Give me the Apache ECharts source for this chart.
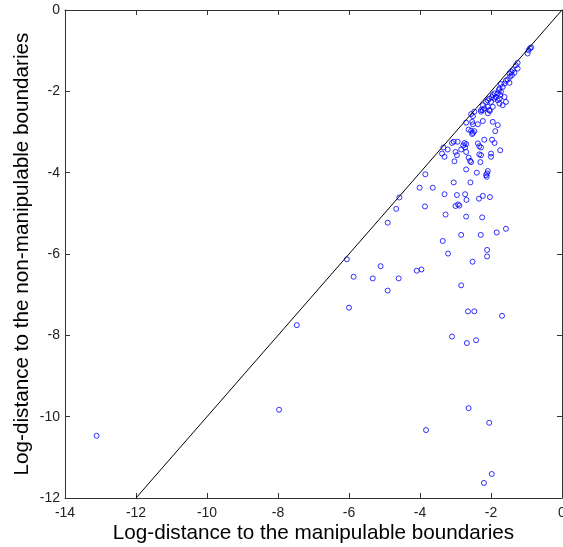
<!DOCTYPE html>
<html>
<head>
<meta charset="utf-8">
<script src="https://cdn.jsdelivr.net/npm/echarts@6/dist/echarts.min.js"></script>
<style>
  html, body { margin: 0; padding: 0; background: #fff; }
  #boundaryChart { width: 563px; height: 547px; }
</style>
</head>
<body>
<div id="boundaryChart"></div>
<script>
// log-distance to the manipulable boundaries (x) / non-manipulable boundaries (y)
const logDistManip = [
  -0.90, -0.94, -0.87, -0.97, -1.25, -1.30, -1.25, -1.39, -1.43, -1.34,
  -1.48, -1.41, -1.46, -1.53, -1.58, -1.48, -1.62, -1.72, -1.67, -1.76,
  -1.78, -1.72, -1.81, -1.74, -1.90, -1.97, -1.95, -2.05, -2.09, -2.14,
  -2.00, -1.90, -1.86, -1.81, -1.76, -1.62, -1.58, -1.67, -1.76, -2.23,
  -2.19, -2.28, -2.09, -2.05, -1.95, -2.23,
  -2.56, -2.47, -2.51, -2.28, -2.09, -2.03,
  -2.70, -2.53, -2.51, -2.37, -2.23, -1.95, -1.81,
  -2.63, -2.56, -2.51, -2.47, -2.53, -1.88,
  -3.10, -3.05, -2.94, -2.75, -2.70, -2.78, -2.37, -2.33, -2.28, -2.19, -1.97, -1.90, -1.74,
  -3.34, -3.22, -3.00, -2.96, -2.84, -2.73, -2.70,
  -3.38, -3.31, -3.03, -2.63, -2.59, -2.56, -2.33, -2.28, -2.30, -2.00, -2.00,
  -2.70, -2.40, -2.09, -2.11, -2.14, -2.12,
  -3.85, -3.05, -2.58, -4.01, -3.64,
  -3.31, -2.96, -2.73, -2.69, -2.93, -2.89, -3.00, -2.34, -2.23, -2.03,
  -3.28, -2.70, -2.25, -2.84, -2.29, -1.84, -1.58, -3.36, -3.21, -2.52,
  -2.11, -2.11, -4.09, -3.96, -2.84, -2.65, -2.47, -1.69, -3.10, -2.68,
  -2.42, -3.86,
  -4.58, -4.67, -4.91, -6.06, -5.11, -5.87, -5.33, -4.60, -4.91, -6.00, -7.47,
  -13.11, -7.97, -3.83, -2.63, -2.05, -1.98, -2.20
];
const logDistNonManip = [
  -0.94, -0.99, -0.92, -1.07, -1.30, -1.36, -1.44, -1.48, -1.52, -1.54,
  -1.56, -1.60, -1.64, -1.71, -1.74, -1.79, -1.81, -1.82, -1.89, -1.93,
  -1.97, -2.01, -2.05, -2.09, -2.05, -2.14, -2.09, -2.18, -2.22, -2.26,
  -2.26, -2.18, -2.14, -2.22, -2.18, -2.14, -2.26, -2.34, -2.30, -2.34,
  -2.42, -2.46, -2.38, -2.46, -2.38, -2.46,
  -2.56, -2.50, -2.61, -2.50, -2.54, -2.48,
  -2.77, -2.75, -2.81, -2.81, -2.73, -2.75, -2.83,
  -2.94, -2.97, -3.02, -2.98, -3.05, -2.98,
  -3.27, -3.24, -3.24, -3.27, -3.30, -3.33, -3.28, -3.35, -3.38, -3.19, -3.19, -3.27, -3.45,
  -3.38, -3.43, -3.49, -3.57, -3.43, -3.38, -3.49,
  -3.53, -3.61, -3.72, -3.63, -3.71, -3.74, -3.55, -3.57, -3.74, -3.53, -3.61,
  -3.92, -4.00, -3.96, -4.02, -4.06, -4.10,
  -4.04, -4.24, -4.24, -4.37, -4.37,
  -4.53, -4.55, -4.53, -4.67, -4.78, -4.81, -4.82, -4.64, -4.57, -4.60,
  -5.03, -5.08, -5.10, -5.53, -5.53, -5.47, -5.38, -5.68, -5.99, -6.19,
  -5.90, -6.06, -6.41, -6.38, -6.77, -7.41, -7.41, -7.52, -8.03, -8.19,
  -8.12, -4.83,
  -4.61, -4.89, -5.23, -6.13, -6.30, -6.56, -6.60, -6.60, -6.90, -7.32, -7.75,
  -10.47, -9.83, -10.33, -9.79, -10.15, -11.41, -11.63
];
// reference line y = x
const diagonalX = [-12, 0];
const diagonalY = [-12, 0];

const fontFamily = 'Liberation Sans, Arial, sans-serif';

function initChart () {
  const myChart = echarts.init(document.getElementById('boundaryChart'))
  const points = logDistManip.map((x, i) => [x, logDistNonManip[i]])
  const diagonal = diagonalX.map((x, i) => [x, diagonalY[i]])

  const axisLine = { show: true, onZero: false, lineStyle: { color: '#333', width: 1 } }
  const axisTick = { show: true, inside: true, length: 5, lineStyle: { color: '#333', width: 1 } }

  const option = {
    animation: false,
    backgroundColor: '#fff',
    textStyle: { fontFamily: fontFamily },
    grid: { left: 65, right: 1, top: 10, bottom: 49, containLabel: false, outerBoundsMode: 'none' },
    xAxis: [
      {
        type: 'value',
        min: -14,
        max: 0,
        interval: 2,
        position: 'bottom',
        axisLine: axisLine,
        axisTick: axisTick,
        splitLine: { show: false },
        axisLabel: { color: '#222', fontSize: 14, margin: 8, fontFamily: fontFamily },
        name: 'Log-distance to the manipulable boundaries',
        nameLocation: 'middle',
        nameGap: 25,
        nameMoveOverlap: false,
        nameTextStyle: { color: '#000', fontSize: 20.7, fontFamily: fontFamily }
      },
      {
        type: 'value',
        min: -14,
        max: 0,
        interval: 2,
        position: 'top',
        axisLine: axisLine,
        axisTick: axisTick,
        splitLine: { show: false },
        axisLabel: { show: false }
      }
    ],
    yAxis: [
      {
        type: 'value',
        min: -12,
        max: 0,
        interval: 2,
        position: 'left',
        axisLine: axisLine,
        axisTick: axisTick,
        splitLine: { show: false },
        axisLabel: { color: '#222', fontSize: 14, margin: 5, fontFamily: fontFamily },
        name: 'Log-distance to the non-manipulable boundaries',
        nameLocation: 'middle',
        nameGap: 32,
        nameMoveOverlap: false,
        nameTextStyle: { color: '#000', fontSize: 20.7, fontFamily: fontFamily }
      },
      {
        type: 'value',
        min: -12,
        max: 0,
        interval: 2,
        position: 'right',
        axisLine: axisLine,
        axisTick: axisTick,
        splitLine: { show: false },
        axisLabel: { show: false }
      }
    ],
    series: [
      {
        type: 'line',
        data: diagonal,
        showSymbol: false,
        silent: true,
        lineStyle: { color: '#000', width: 1 }
      },
      {
        type: 'scatter',
        data: points,
        symbol: 'circle',
        symbolSize: 5,
        itemStyle: { color: 'rgba(0,0,0,0)', borderColor: '#0000ff', borderWidth: 1 }
      }
    ]
  }
  myChart.setOption(option, true)
}

initChart()
</script>
</body>
</html>
